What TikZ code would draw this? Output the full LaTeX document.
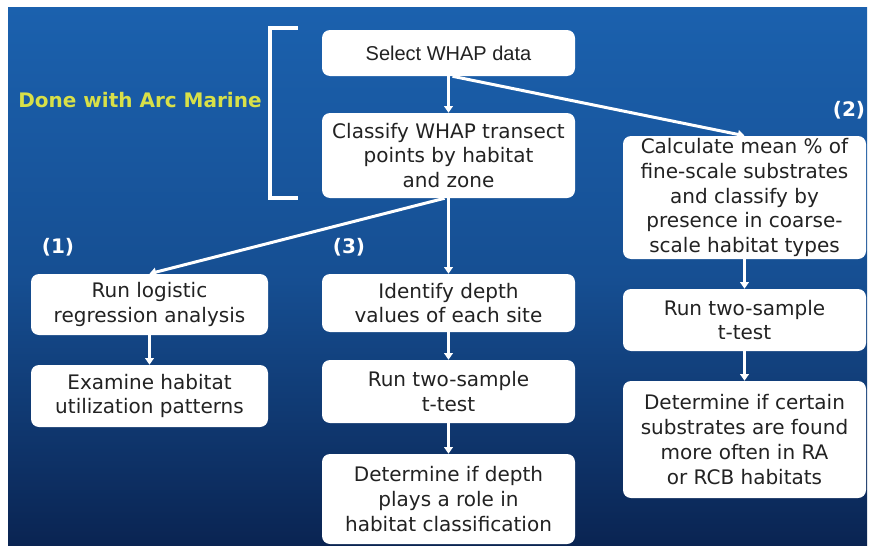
\documentclass[tikz,border=0pt]{standalone}
\usepackage{fontspec}
\setmainfont{DejaVu Sans}
\newfontfamily\arialfont{Liberation Sans}
\usetikzlibrary{arrows.meta}
\definecolor{slidetop}{HTML}{1B61AE}
\definecolor{slidebot}{HTML}{0A2452}
\definecolor{arcyellow}{HTML}{D8E048}
\definecolor{boxtext}{HTML}{222222}
\begin{document}
\begin{tikzpicture}[x=0.75pt,y=-0.75pt,
  stepbox/.style={draw=none,fill=white,rounded corners=6pt,align=center,
    text=boxtext,font=\fontsize{15}{18.6}\selectfont,inner sep=0pt},
  flow/.style={white,line width=2.25pt,-{Triangle[width=6.5pt,length=5pt]}},
  tag/.style={white,font=\fontsize{15}{18}\selectfont\bfseries}]
\useasboundingbox[fill=white] (0,0) rectangle (872,546);
% slide background
\shade[top color=slidetop,bottom color=slidebot,middle color=slidetop!70!slidebot] (8,7) rectangle (867,546);

% Arc Marine part
\node[font=\fontsize{15}{18}\selectfont\bfseries,text=arcyellow] (arc) at (140,100) {Done with Arc Marine};
\draw[white,line width=3pt] (298,28) -- (270,28) -- (270,198) -- (298,198);
\node[stepbox,minimum width=189.75pt,minimum height=34.5pt,font=\fontsize{15}{18}\arialfont] (select) at (448.5,53) {Select WHAP data};
\node[stepbox,minimum width=189.75pt,minimum height=63.75pt] (classify) at (448.5,155.5) {Classify WHAP transect\\points by habitat\\and zone};

% branch (1)
\node[tag] (one) at (58,247) {(1)};
\node[stepbox,minimum width=177.75pt,minimum height=45.75pt] (logit) at (149.5,304.5) {Run logistic\\regression analysis};
\node[stepbox,minimum width=177.75pt,minimum height=46.5pt] (examine) at (149.5,396) {Examine habitat\\utilization patterns};

% branch (3)
\node[tag] (three) at (349,247) {(3)};
\node[stepbox,minimum width=189.75pt,minimum height=43.5pt] (depth) at (448.5,303) {Identify depth\\values of each site};
\node[stepbox,minimum width=189.75pt,minimum height=47.25pt] (ttest) at (448.5,391.5) {Run two-sample\\t-test};
\node[stepbox,minimum width=189.75pt,minimum height=67.5pt] (role) at (448.5,499) {Determine if depth\\plays a role in\\habitat classification};

% branch (2)
\node[tag] (two) at (849,110) {(2)};
\node[stepbox,minimum width=182.25pt,minimum height=92.25pt] (calc) at (744.5,197.5) {Calculate mean \% of\\fine-scale substrates\\and classify by\\presence in coarse-\\scale habitat types};
\node[stepbox,minimum width=182.25pt,minimum height=46.5pt] (ttestb) at (744.5,320) {Run two-sample\\t-test};
\node[stepbox,minimum width=182.25pt,minimum height=87.75pt] (certain) at (744.5,439.5) {Determine if certain\\substrates are found\\more often in RA\\or RCB habitats};

% connectors
\draw[flow] (select) -- (classify);
\draw[flow] ([xshift=3pt]select.south) -- (calc.north);
\draw[flow] ([xshift=-3pt]classify.south) -- (logit.north);
\draw[flow] (classify) -- (depth);
\draw[flow] (depth) -- (ttest);
\draw[flow] (ttest) -- (role);
\draw[flow] (logit) -- (examine);
\draw[flow] (calc) -- (ttestb);
\draw[flow] (ttestb) -- (certain);
\end{tikzpicture}
\end{document}
